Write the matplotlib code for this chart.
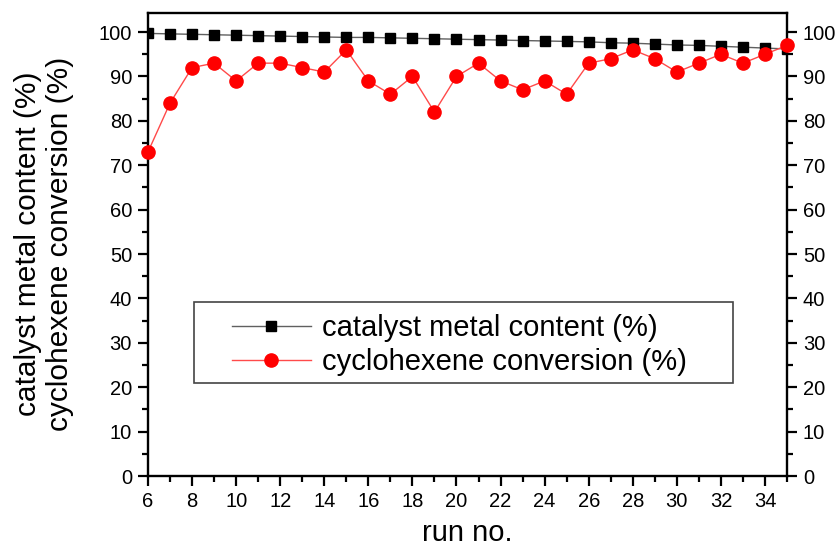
import matplotlib
matplotlib.use("Agg")
import matplotlib.pyplot as plt
from matplotlib.ticker import MultipleLocator
from matplotlib.patches import Rectangle

runs = list(range(6, 36))
metal = [99.7, 99.6, 99.5, 99.4, 99.3, 99.2, 99.1, 99.0, 98.9, 98.8,
         98.8, 98.7, 98.6, 98.5, 98.4, 98.3, 98.2, 98.1, 98.0, 97.9,
         97.8, 97.6, 97.5, 97.3, 97.1, 97.0, 96.8, 96.6, 96.4, 96.2]
conversion = [73, 84, 92, 93, 89, 93, 93, 92, 91, 96,
              89, 86, 90, 82, 90, 93, 89, 87, 89, 86,
              93, 94, 96, 94, 91, 93, 95, 93, 95, 97]
xticks = list(range(6, 35, 2))
yticks = list(range(0, 101, 10))

plt.rcParams['font.family'] = ['Liberation Sans', 'DejaVu Sans']
W, H = 835, 549
fig = plt.figure(figsize=(W/100, H/100), dpi=100)
L, R, T, B = 148, 787, 13, 476
ax = fig.add_axes([L/W, 1-B/H, (R-L)/W, (B-T)/H])

ax.plot(runs, metal, color='#606060', lw=1.0, marker='s', ms=7,
        mfc='black', mec='black', label='catalyst metal content (%)', zorder=3)
ax.plot(runs, conversion, color='#ff4a4a', lw=1.0, marker='o', ms=9.5,
        mfc='#ff0000', mec='#ff0000', label='cyclohexene conversion (%)', zorder=4, clip_on=False)

ax.set_xlim(6, 35)
ax.set_ylim(0, 104.3)
ax.set_xticks(xticks)
ax.set_yticks(yticks)
ax.xaxis.set_minor_locator(MultipleLocator(1))
ax.yaxis.set_minor_locator(MultipleLocator(5))
ax.tick_params(which='major', direction='out', length=7.5, width=1.6, labelsize=14.5,
               right=True, labelright=True, top=False, pad=4)
ax.tick_params(which='minor', direction='out', length=4, width=1.6, right=True, top=False)
for s in ax.spines.values():
    s.set_linewidth(1.7)

ax.set_xlabel('run no.', fontsize=21, labelpad=6)
fig.text(44/W, 1-244/H, 'catalyst metal content (%)\ncyclohexene conversion (%)',
         rotation=90, ha='center', va='center', fontsize=21.5, linespacing=1.15,
         multialignment='center')

# legend frame
bx0, bx1, by0, by1 = 194, 733, 302, 383
ax.add_patch(Rectangle(((bx0-L)/(R-L), (B-by1)/(B-T)), (bx1-bx0)/(R-L), (by1-by0)/(B-T),
                       transform=ax.transAxes, fill=True, facecolor='white',
                       edgecolor='#444444', lw=1.2, zorder=5))
leg = ax.legend(loc='center left', bbox_to_anchor=((232-L)/(R-L), (B-345)/(B-T)),
                fontsize=21, frameon=False, borderpad=0, handlelength=2.7,
                handletextpad=0.4, labelspacing=0.2, borderaxespad=0)
leg.set_zorder(6)

fig.savefig('out.png', dpi=100)
